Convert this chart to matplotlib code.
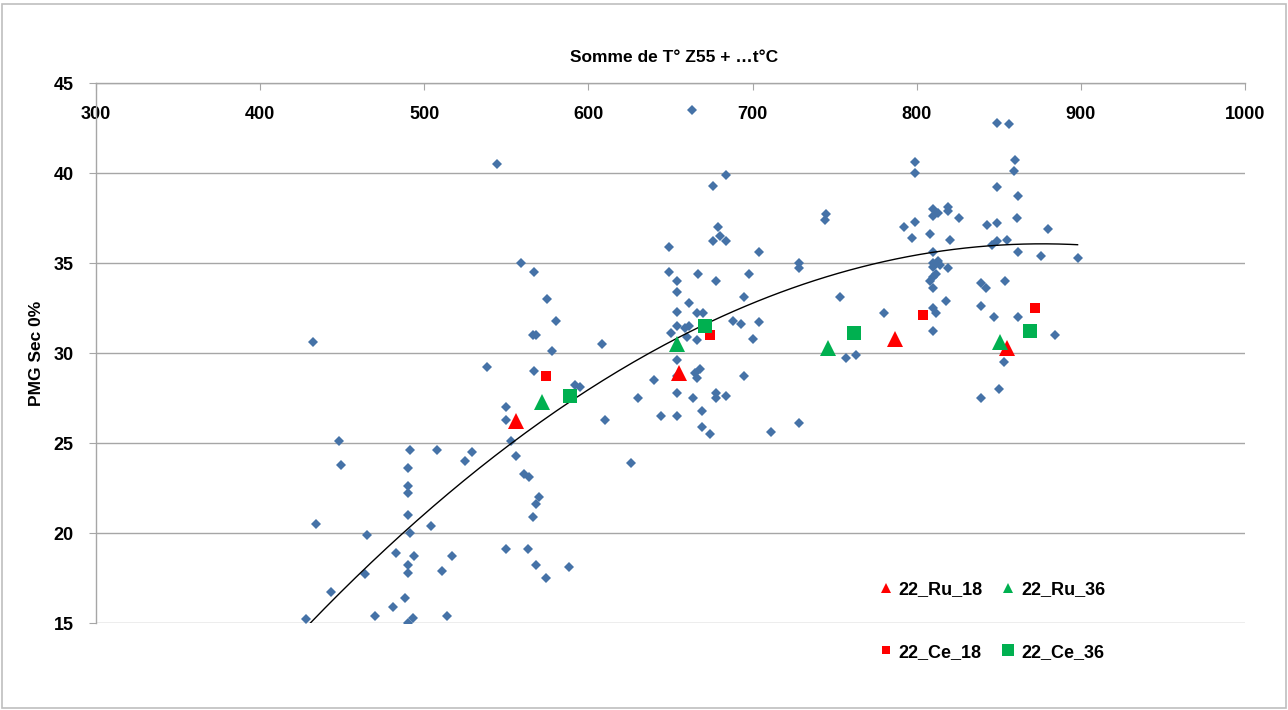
import numpy as np
import matplotlib
matplotlib.use("Agg")
import matplotlib.pyplot as plt
from matplotlib.patches import Rectangle

plt.rcParams["font.family"] = ["Liberation Sans", "DejaVu Sans"]
plt.rcParams["font.weight"] = "bold"

# all observations (blue diamonds)
blue_x = [550, 550, 448, 491, 508, 529, 525, 449, 490, 553, 556, 610, 626, 561, 564,
          490, 490, 570, 568, 566, 490, 434, 504, 465, 491, 483, 494, 517, 550, 563,
          490, 490, 511, 568, 588, 464, 574, 443, 488, 481, 470, 493, 490, 514, 428, 432,
          544, 559, 567, 575, 580, 566, 568, 578, 608, 538, 567, 592, 595, 630, 640,
          663, 684, 676, 679, 680, 676, 684, 649, 704, 728, 728, 649, 667, 654, 678,
          698, 654, 695, 661, 654, 666, 670, 688, 693, 704, 654, 659, 661, 650, 660,
          666, 700, 654, 654, 665, 668, 666, 695, 654, 664, 678, 678, 684, 644, 654,
          669, 669, 674, 711, 728,
          849, 799, 799, 849, 745, 744, 810, 813, 819, 819, 810, 799, 792, 826, 843,
          849, 797, 808, 820, 846, 849, 810, 810, 813, 814, 810, 819, 812, 810, 808,
          810, 839, 842, 753, 818, 839, 847, 780, 810, 812, 810, 757, 763,
          854, 862, 884, 853, 850, 839,
          856, 860, 859, 862, 861, 880, 855, 862, 876, 898]
blue_y = [27.0, 26.3, 25.1, 24.6, 24.6, 24.5, 24.0, 23.8, 23.6, 25.1, 24.3, 26.3, 23.9, 23.3, 23.1,
          22.6, 22.2, 22.0, 21.6, 20.9, 21.0, 20.5, 20.4, 19.9, 20.0, 18.9, 18.7, 18.7, 19.1, 19.1,
          18.2, 17.8, 17.9, 18.2, 18.1, 17.7, 17.5, 16.7, 16.4, 15.9, 15.4, 15.3, 15.0, 15.4, 15.2, 30.6,
          40.5, 35.0, 34.5, 33.0, 31.8, 31.0, 31.0, 30.1, 30.5, 29.2, 29.0, 28.2, 28.1, 27.5, 28.5,
          43.5, 39.9, 39.3, 37.0, 36.5, 36.2, 36.2, 35.9, 35.6, 35.0, 34.7, 34.5, 34.4, 34.0, 34.0,
          34.4, 33.4, 33.1, 32.8, 32.3, 32.2, 32.2, 31.8, 31.6, 31.7, 31.5, 31.4, 31.5, 31.1, 30.9,
          30.7, 30.8, 29.6, 28.7, 28.9, 29.1, 28.6, 28.7, 27.8, 27.5, 27.5, 27.8, 27.6, 26.5, 26.5,
          26.8, 25.9, 25.5, 25.6, 26.1,
          42.8, 40.6, 40.0, 39.2, 37.7, 37.4, 38.0, 37.8, 38.1, 37.9, 37.6, 37.3, 37.0, 37.5, 37.1,
          37.2, 36.4, 36.6, 36.3, 36.0, 36.2, 35.6, 35.0, 35.1, 34.9, 34.8, 34.7, 34.4, 34.2, 34.0,
          33.6, 33.9, 33.6, 33.1, 32.9, 32.6, 32.0, 32.2, 32.5, 32.2, 31.2, 29.7, 29.9,
          34.0, 32.0, 31.0, 29.5, 28.0, 27.5,
          42.7, 40.7, 40.1, 38.7, 37.5, 36.9, 36.3, 35.6, 35.4, 35.3]

# highlighted trials
ru18_x = [556, 655, 787, 855]
ru18_y = [26.2, 28.9, 30.8, 30.3]
ru36_x = [572, 654, 746, 851]
ru36_y = [27.3, 30.5, 30.3, 30.6]
ce18_x = [574, 674, 804, 872]
ce18_y = [28.7, 31.0, 32.1, 32.5]
ce36_x = [589, 671, 762, 869]
ce36_y = [27.6, 31.5, 31.1, 31.2]

# points read along the polynomial trendline of the chart
trend_x = [430, 491, 553, 619, 741, 809, 898]
trend_y = [15.1, 20.0, 25.1, 29.1, 34.1, 35.6, 36.0]

x_ticks = [300, 400, 500, 600, 700, 800, 900, 1000]
y_ticks = [15, 20, 25, 30, 35, 40, 45]

fig = plt.figure(figsize=(12.88, 7.10), dpi=100)
ax = fig.add_axes([96 / 1288, 1 - 623 / 710, (1245 - 96) / 1288, (623 - 83) / 710])

ax.plot(blue_x, blue_y, linestyle="none", marker="D", markersize=5.3,
        color="#4572A7", markeredgewidth=0, zorder=3)

# order 2 polynomial trendline
coefs = np.polyfit(trend_x, trend_y, 2)
xt = np.linspace(min(trend_x), max(trend_x), 200)
ax.plot(xt, np.polyval(coefs, xt), color="black", lw=1.0, zorder=4)

ax.plot(ru18_x, ru18_y, linestyle="none", marker="^", markersize=11,
        color="#FF0000", markeredgewidth=0, label="22_Ru_18", zorder=5)
ax.plot(ce18_x, ce18_y, linestyle="none", marker="s", markersize=6.5,
        color="#FF0000", markeredgewidth=0, label="22_Ce_18", zorder=5)
ax.plot(ru36_x, ru36_y, linestyle="none", marker="^", markersize=11.5,
        color="#00B050", markeredgewidth=0, label="22_Ru_36", zorder=5)
ax.plot(ce36_x, ce36_y, linestyle="none", marker="s", markersize=10,
        color="#00B050", markeredgewidth=0, label="22_Ce_36", zorder=5)

ax.set_xlim(300, 1000)
ax.set_ylim(15, 45)
ax.set_xticks(x_ticks)
ax.set_yticks(y_ticks)

grid_c = "#a6a6a6"
ax.grid(axis="y", color=grid_c, lw=1.0, zorder=0)
ax.set_axisbelow(True)
for s in ["right", "bottom"]:
    ax.spines[s].set_visible(False)
for s in ["left", "top"]:
    ax.spines[s].set_color(grid_c)
    ax.spines[s].set_linewidth(1.0)

ax.xaxis.set_ticks_position("top")
ax.tick_params(axis="x", direction="in", length=5, color=grid_c, pad=-29,
               labelsize=13)
ax.tick_params(axis="y", direction="out", length=5, color=grid_c, pad=11,
               labelsize=13)
for lab in ax.get_xticklabels() + ax.get_yticklabels():
    lab.set_fontweight("bold")

ax.set_ylabel("PMG Sec 0%", fontsize=12.5, fontweight="bold", labelpad=7)
fig.text(674 / 1288, 1 - 58 / 710, "Somme de T° Z55 + …t°C", ha="center", va="center",
         fontsize=12.5, fontweight="bold")

leg = ax.legend(loc="center", bbox_to_anchor=(992 / 1288, 1 - 621 / 710),
                bbox_transform=fig.transFigure, ncol=2, frameon=False,
                fontsize=13, handlelength=0.8, handletextpad=0.3,
                columnspacing=1.0, labelspacing=2.5)
for t in leg.get_texts():
    t.set_fontweight("bold")
# legend symbols are drawn a bit smaller than the plotted ones
for h, ms in zip(leg.legend_handles, [7.5, 6, 7.5, 8.5]):
    h.set_markersize(ms)

fig.add_artist(Rectangle((1.5 / 1288, 2 / 710), 1284 / 1288, 704 / 710,
                         transform=fig.transFigure, fill=False,
                         edgecolor="#bfbfbf", lw=1.2))

fig.savefig("out.png", dpi=100)
